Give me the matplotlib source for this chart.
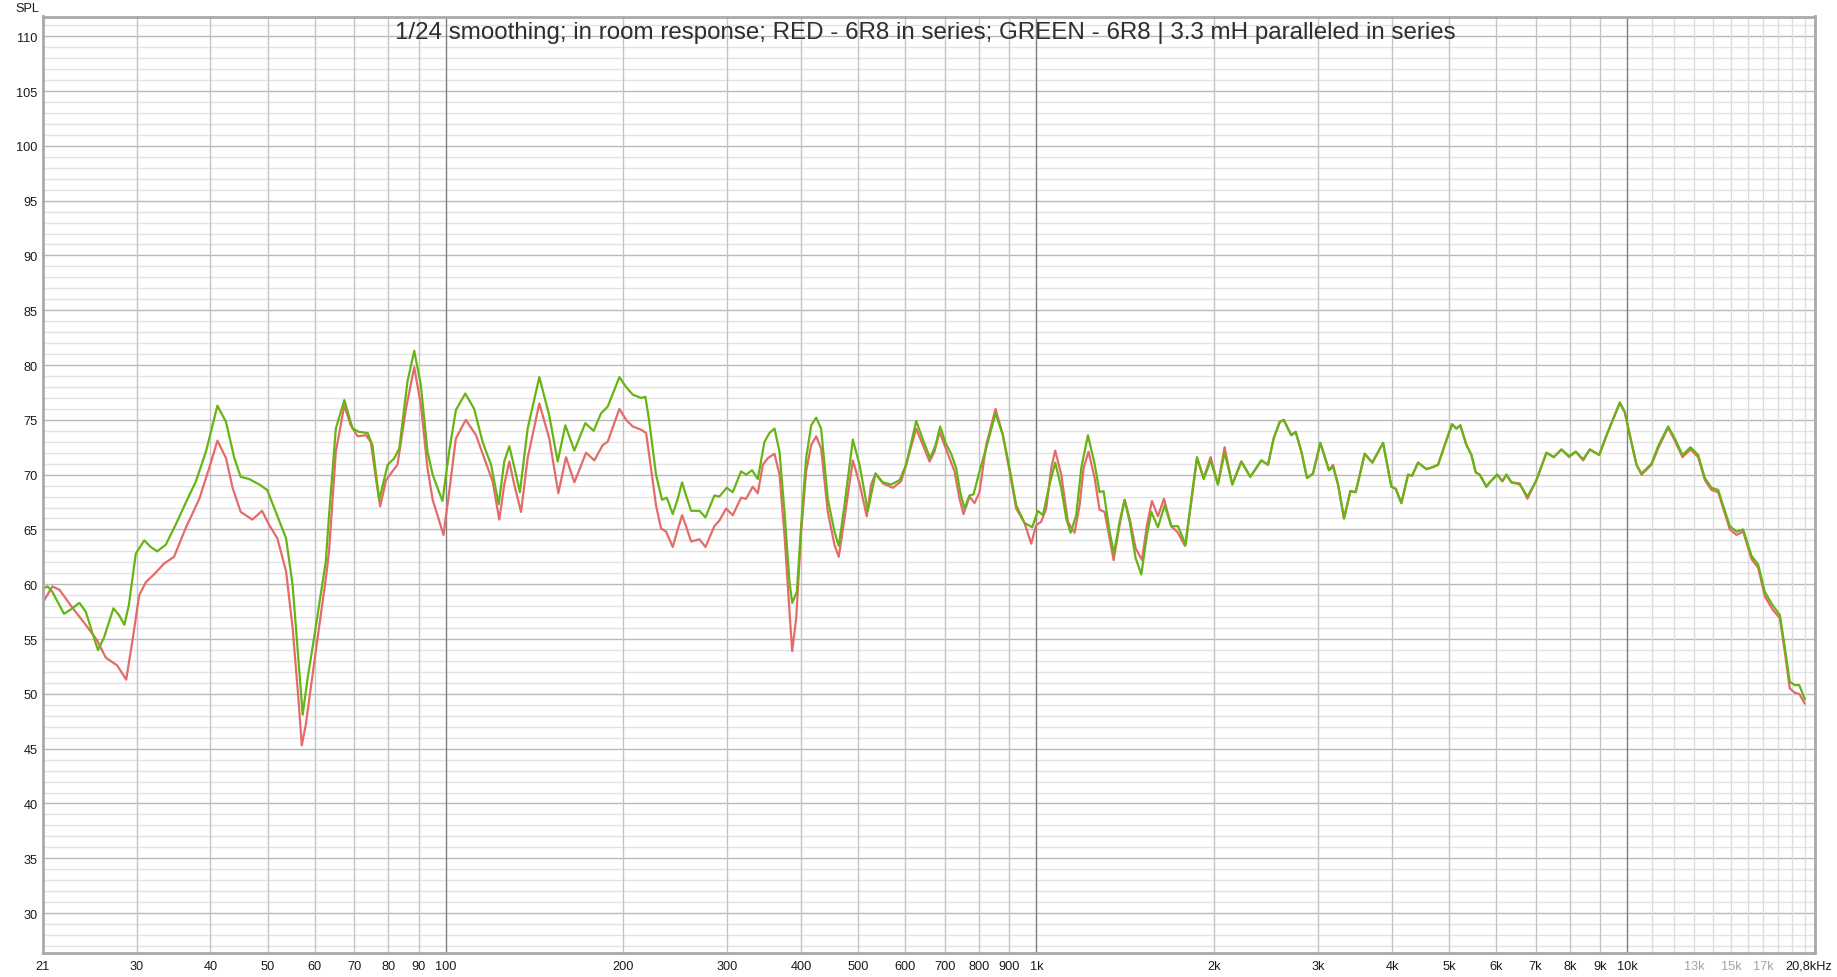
import matplotlib
matplotlib.use("Agg")
import matplotlib.pyplot as plt
from matplotlib import font_manager

# ---------------- data ----------------
freq_red = [20.8, 21.6, 22.2, 23.4, 24.6, 25.7, 26.6, 27.8, 28.8, 29.5, 30.3, 31.1, 32.1, 33.4, 34.7,
            36.3, 38.3, 39.8, 41.1, 42.5, 43.6, 45.0, 47.1, 48.9, 50.3, 51.9, 53.7, 55.1, 56.4, 57.1,
            58.0, 60.3, 62.7, 63.5, 65.2, 67.4, 69.1, 71.0, 73.3, 74.7, 76.2, 77.5, 79.3, 81.3, 82.9,
            85.7, 88.5, 90.8, 93.2, 95.1, 96.9, 99.2, 101.4, 104.1, 108.2, 112.6, 116.3, 120.1, 123.3,
            125.7, 128.2, 130.7, 134.2, 137.7, 144.1, 149.8, 155.2, 159.9, 165.2, 172.9, 178.6, 184.5,
            188.1, 196.9, 202.1, 207.4, 214.3, 218.5, 222.7, 227.1, 231.6, 236.2, 242.4, 247.2, 251.4,
            255.3, 260.4, 269.0, 275.4, 285.1, 290.7, 298.4, 306.3, 316.4, 322.6, 331.1, 337.7, 344.4,
            351.1, 360.4, 367.5, 374.7, 381.1, 386.1, 392.2, 399.9, 407.7, 415.8, 424.0, 432.2, 443.6,
            455.3, 463.0, 473.4, 489.1, 502.0, 516.4, 525.3, 534.3, 549.8, 571.7, 590.6, 606.1, 626.1,
            642.6, 659.5, 672.4, 685.7, 699.2, 712.9, 726.9, 741.3, 752.8, 770.7, 785.9, 801.3, 822.4,
            853.0, 877.8, 900.9, 924.6, 955.0, 980.2, 999.5, 1019.2, 1039.2, 1059.8, 1076.4, 1102.0,
            1131.0, 1160.7, 1183.7, 1202.3, 1225.8, 1254.9, 1279.4, 1304.7, 1330.5, 1351.5, 1383.4,
            1410.8, 1438.6, 1472.5, 1509.3, 1539.1, 1569.4, 1606.4, 1644.5, 1692.2, 1736.8, 1785.0,
            1829.6, 1870.5, 1919.8, 1972.4, 2029.6, 2083.1, 2146.4, 2223.3, 2302.5, 2403.3, 2466.7,
            2521.8, 2581.7, 2622.4, 2701.5, 2747.9, 2809.3, 2872.1, 2939.8, 3024.9, 3129.0, 3178.4,
            3241.2, 3317.5, 3400.7, 3472.0, 3596.0, 3705.2, 3862.9, 3990.4, 4058.1, 4148.8, 4258.1,
            4325.3, 4427.2, 4574.2, 4694.1, 4786.3, 4912.5, 5054.8, 5140.5, 5221.6, 5345.6, 5451.2,
            5543.6, 5631.1, 5779.5, 5854.4, 6025.9, 6151.5, 6247.2, 6370.5, 6581.0, 6781.0, 7022.6,
            7302.8, 7514.2, 7742.5, 7976.3, 8187.4, 8426.3, 8648.8, 8971.2, 9231.5, 9474.8, 9720.3,
            9911, 10106, 10373, 10575, 10997, 11287, 11734, 12044, 12410, 12802, 13191, 13538, 13895,
            14260, 14925, 15318, 15721, 16239, 16667, 17106, 17627, 18137, 18496, 18850, 19231, 19561,
            19995]
spl_red = [58.3, 59.8, 59.5, 57.8, 56.3, 54.9, 53.3, 52.6, 51.3, 54.8, 59.0, 60.2, 60.9, 61.9, 62.5,
           65.1, 67.8, 70.6, 73.1, 71.5, 68.8, 66.6, 65.9, 66.7, 65.4, 64.2, 61.2, 56.0, 49.3, 45.3,
           47.2, 53.9, 60.5, 63.0, 72.1, 76.3, 74.5, 73.5, 73.6, 73.0, 69.7, 67.1, 69.5, 70.3, 70.9,
           76.0, 79.8, 76.4, 70.6, 67.7, 66.3, 64.5, 68.4, 73.3, 75.0, 73.6, 71.5, 69.4, 65.9,
           69.1, 71.2, 69.1, 66.6, 71.5, 76.5, 73.3, 68.3, 71.6, 69.3, 72.0, 71.3, 72.7,
           73.0, 76.0, 75.0, 74.4, 74.1, 73.8, 70.6, 67.2, 65.1, 64.8, 63.4, 65.0, 66.3,
           65.3, 63.9, 64.1, 63.4, 65.3, 65.8, 66.9, 66.3, 67.9, 67.8, 68.9, 68.3, 70.9,
           71.5, 71.9, 70.0, 64.5, 58.4, 53.9, 56.9, 64.8, 70.3, 72.7, 73.5, 72.4, 66.6,
           63.6, 62.5, 66.0, 71.3, 69.2, 66.2, 69.1, 70.1, 69.2, 68.8, 69.4, 71.5, 74.2,
           72.7, 71.2, 72.1, 73.9, 72.7, 71.5, 70.3, 67.8, 66.4, 68.0, 67.4, 68.4, 72.7,
           76.0, 73.6, 70.3, 66.9, 65.6, 63.7, 65.4, 65.7, 66.9, 70.6, 72.2, 70.0,
           65.7, 64.7, 67.2, 70.6, 72.1, 69.7, 66.8, 66.6, 64.2, 62.2, 65.4,
           67.7, 66.0, 63.3, 62.2, 65.4, 67.6, 66.2, 67.8, 65.3, 64.7, 63.5,
           67.5, 71.5, 69.7, 71.6, 69.1, 72.5, 69.1, 71.2, 69.8, 71.3, 70.9,
           73.3, 74.8, 75.0, 73.6, 73.9, 72.1, 69.7, 70.1, 72.9, 70.4, 70.9,
           69.1, 66.0, 68.5, 68.4, 71.9, 71.1, 72.9, 68.9, 68.7, 67.4, 70.0,
           69.9, 71.1, 70.5, 70.7, 70.9, 72.7, 74.6, 74.2, 74.5, 72.7, 71.8,
           70.2, 70.0, 68.9, 69.3, 70.0, 69.4, 70.0, 69.3, 69.2, 67.8, 69.5,
           72.0, 71.6, 72.3, 71.6, 72.1, 71.3, 72.3, 71.8, 73.6, 75.1, 76.5,
           75.7, 73.6, 70.9, 70.0, 70.9, 72.4, 74.3, 73.1, 71.6, 72.3, 71.6, 69.5, 68.6,
           68.4, 65.0, 64.5, 64.8, 62.3, 61.5, 58.9, 57.7, 56.9, 53.8, 50.5, 50.1, 50.0,
           49.1]

freq_green = [20.8, 21.2, 21.6, 22.6, 23.2, 24.0, 24.6, 25.3, 25.8, 26.4, 27.4, 28.0, 28.6, 29.1, 29.9,
              30.9, 31.7, 32.5, 33.6, 34.9, 36.3, 37.8, 39.3, 41.1, 42.5, 43.9, 45.0, 46.5, 48.4, 49.9,
              51.6, 53.7, 55.1, 56.2, 57.3, 58.4, 59.9, 62.7, 63.5, 65.2, 67.4, 69.6, 71.4, 73.8, 75.2,
              77.2, 79.8, 81.9, 83.5, 86.2, 88.5, 90.8, 93.2, 95.1, 96.9, 98.8, 101.4, 104.1, 108.0,
              111.8, 115.5, 119.4, 123.0, 125.7, 128.2, 130.7, 133.6, 137.7, 144.1, 149.8, 154.8, 159.5,
              165.2, 172.4, 178.1, 183.3, 188.1, 196.9, 202.1, 207.4, 214.3, 217.9, 221.3, 227.1, 232.5,
              236.8, 242.4, 247.2, 251.4, 255.3, 260.4, 269.0, 275.4, 285.1, 290.7, 299.2, 306.3, 316.4,
              322.6, 330.3, 337.7, 346.6, 353.4, 360.4, 367.5, 374.7, 382.1, 386.1, 393.2, 399.9, 407.7,
              415.8, 424.0, 432.2, 443.6, 455.3, 463.0, 473.4, 489.1, 502.0, 518.5, 534.3, 549.8, 568.0,
              586.8, 602.2, 626.1, 642.6, 661.2, 675.1, 687.5, 701.9, 717.6, 731.6, 743.1, 755.8, 770.7,
              782.9, 801.3, 822.4, 853.0, 877.8, 900.9, 924.6, 955.0, 984.0, 1006.0, 1025.9, 1052.9,
              1076.4, 1102.0, 1123.7, 1142.9, 1168.3, 1191.4, 1222.7, 1254.9, 1279.4, 1299.6, 1330.5,
              1353.2, 1383.4, 1410.8, 1438.6, 1472.5, 1505.5, 1539.1, 1565.5, 1606.4, 1648.7, 1692.2,
              1736.8, 1789.6, 1829.6, 1870.5, 1919.8, 1972.4, 2029.6, 2083.1, 2146.4, 2223.3, 2302.5,
              2403.3, 2466.7, 2521.8, 2581.7, 2622.4, 2701.5, 2747.9, 2809.3, 2872.1, 2939.8, 3024.9,
              3129.0, 3178.4, 3241.2, 3317.5, 3400.7, 3472.0, 3596.0, 3705.2, 3862.9, 3990.4, 4058.1,
              4148.8, 4258.1, 4325.3, 4427.2, 4574.2, 4694.1, 4786.3, 4912.5, 5054.8, 5140.5, 5221.6,
              5345.6, 5451.2, 5543.6, 5631.1, 5779.5, 5854.4, 6025.9, 6151.5, 6247.2, 6370.5, 6581.0,
              6781.0, 7022.6, 7302.8, 7514.2, 7742.5, 7976.3, 8187.4, 8426.3, 8648.8, 8971.2, 9231.5,
              9474.8, 9720.3, 9911, 10106, 10373, 10575, 10997, 11287, 11734, 12044, 12410, 12802,
              13191, 13538, 13895, 14260, 14925, 15318, 15721, 16239, 16667, 17106, 17627, 18137,
              18496, 18850, 19231, 19561, 19995]
spl_green = [59.6, 59.8, 59.3, 57.3, 57.7, 58.3, 57.5, 55.4, 54.0, 55.1, 57.8, 57.2, 56.3, 58.1, 62.8,
             64.0, 63.4, 63.0, 63.6, 65.4, 67.4, 69.4, 72.1, 76.3, 74.8, 71.5, 69.8, 69.6, 69.1, 68.6,
             66.6, 64.2, 59.9, 53.9, 48.1, 51.4, 55.1, 62.1, 66.3, 74.2, 76.8, 74.2, 73.9, 73.8, 72.7,
             67.7, 70.9, 71.5, 72.4, 78.5, 81.3, 78.2, 72.1, 70.0, 68.8, 67.6, 72.1, 75.9, 77.4,
             76.0, 73.0, 70.9, 67.3, 71.2, 72.6, 70.7, 68.4, 74.2, 78.9, 75.4, 71.2, 74.5,
             72.2, 74.7, 74.0, 75.6, 76.2, 78.9, 78.0, 77.3, 77.0, 77.1, 74.8, 70.0, 67.7,
             67.9, 66.4, 67.8, 69.3, 68.1, 66.7, 66.7, 66.1, 68.1, 68.0, 68.8, 68.4, 70.3,
             70.0, 70.4, 69.6, 73.0, 73.8, 74.2, 72.1, 66.6, 60.2, 58.3, 59.3, 65.4, 71.5,
             74.5, 75.2, 74.2, 67.8, 64.8, 63.5, 67.2, 73.2, 70.9, 66.7, 70.1, 69.3, 69.1,
             69.5, 70.9, 74.9, 73.2, 71.5, 72.7, 74.4, 72.9, 71.9, 70.6, 68.4, 66.9, 68.1,
             68.2, 70.3, 72.4, 75.6, 73.6, 70.6, 67.2, 65.6, 65.2, 66.7, 66.3, 69.1,
             71.1, 68.8, 66.0, 64.7, 66.3, 70.6, 73.6, 71.0, 68.4, 68.5, 64.8,
             62.8, 65.7, 67.7, 65.7, 62.4, 60.9, 64.5, 66.6, 65.2, 67.2, 65.3,
             65.3, 63.6, 67.8, 71.6, 69.6, 71.3, 69.1, 72.0, 69.1, 71.2, 69.8,
             71.3, 70.9, 73.3, 74.8, 75.0, 73.6, 73.9, 72.1, 69.7, 70.1, 72.9,
             70.4, 70.7, 69.1, 66.0, 68.5, 68.4, 71.9, 71.1, 72.9, 68.9, 68.7,
             67.4, 70.0, 69.9, 71.1, 70.5, 70.7, 70.9, 72.7, 74.6, 74.2, 74.5,
             72.7, 71.8, 70.2, 70.0, 68.9, 69.3, 70.0, 69.4, 70.0, 69.3, 69.1,
             68.0, 69.5, 72.0, 71.6, 72.3, 71.7, 72.1, 71.4, 72.3, 71.8, 73.6,
             75.1, 76.6, 75.7, 73.6, 70.9, 70.1, 71.0, 72.6, 74.4, 73.3, 71.8, 72.5,
             71.8, 69.7, 68.8, 68.6, 65.3, 64.8, 65.0, 62.6, 61.8, 59.3, 58.1, 57.2,
             54.2, 51.1, 50.8, 50.8, 49.5]

xtick_values = [20.8, 30, 40, 50, 60, 70, 80, 90, 100, 200, 300, 400, 500, 600, 700, 800, 900,
                1000, 2000, 3000, 4000, 5000, 6000, 7000, 8000, 9000, 10000, 13000, 15000, 17000]
xtick_labels = ["21", "30", "40", "50", "60", "70", "80", "90", "100", "200", "300", "400", "500",
                "600", "700", "800", "900", "1k", "2k", "3k", "4k", "5k", "6k", "7k", "8k", "9k",
                "10k", "13k", "15k", "17k"]
faded_labels = ["13k", "15k", "17k"]
ytick_values = list(range(30, 111, 5))
title_text = ("1/24 smoothing; in room response; RED - 6R8 in series; "
              "GREEN - 6R8 | 3.3 mH paralleled in series")

# ---------------- figure ----------------
W, H = 1837, 978
fig = plt.figure(figsize=(W / 100, H / 100), dpi=100)
fig.patch.set_facecolor("white")

names = {f.name for f in font_manager.fontManager.ttflist}
base_font = "Liberation Sans" if "Liberation Sans" in names else "DejaVu Sans"
title_font = "Liberation Sans Narrow" if "Liberation Sans Narrow" in names else base_font
FS = 9.2

left, right, top, bottom = 42.7, 1815, 17.5, 954.3
ax = fig.add_axes([left / W, 1 - bottom / H, (right - left) / W, (bottom - top) / H])
ax.set_xscale("log")
ax.set_xlim(20.8, 20800)
ax.set_ylim(26.33, 111.8)
ax.set_facecolor("white")

# horizontal grid: 1 dB light, 5 dB darker
for v in range(27, 112):
    col = "#b9b9b9" if v % 5 == 0 else "#e2e2e2"
    ax.axhline(v, color=col, lw=1.0, zorder=1)

# vertical grid
for dec in (10, 100, 1000):
    for m in range(2, 10):
        f = dec * m
        if f < 20.8:
            continue
        ax.axvline(f, color="#c4c4c4", lw=1.0, zorder=1)
for f in (100, 1000, 10000):
    ax.axvline(f, color="#7d7d7d", lw=1.0, zorder=2)
for m in range(11, 21):
    ax.axvline(m * 1000, color="#dcdcdc", lw=1.0, zorder=1)

ax.plot(freq_red, spl_red, color="#e56b6b", lw=1.6, zorder=4,
        solid_joinstyle="round", solid_capstyle="round")
ax.plot(freq_green, spl_green, color="#66b514", lw=1.6, zorder=5,
        solid_joinstyle="round", solid_capstyle="round")

ax.set_xticks(xtick_values)
ax.set_xticklabels(xtick_labels)
ax.xaxis.set_minor_locator(matplotlib.ticker.NullLocator())
ax.set_yticks(ytick_values)
ax.set_yticklabels([str(v) for v in ytick_values])
ax.tick_params(axis="both", length=0, labelsize=FS, colors="#1a1a1a")
ax.tick_params(axis="x", pad=5)
ax.tick_params(axis="y", pad=3.5)
for lab in ax.get_xticklabels() + ax.get_yticklabels():
    lab.set_fontfamily(base_font)
for lab in ax.get_xticklabels():
    if lab.get_text() in faded_labels:
        lab.set_color("#a3a3a3")

for s in ax.spines.values():
    s.set_color("#a9a9a9")
    s.set_linewidth(2.0)
    s.set_zorder(6)

fig.text(1809 / W, 1 - 967 / H, "20,8kHz", ha="center", va="center",
         fontsize=FS, family=base_font, color="#1a1a1a")
fig.text(27 / W, 1 - 9 / H, "SPL", ha="center", va="center",
         fontsize=FS, family=base_font, color="#1a1a1a")

t = fig.text(925.5 / W, 1 - 33 / H, title_text, ha="center", va="center",
             fontsize=16, family=title_font, color="#2e2e2e", zorder=10)
fig.canvas.draw()
bb = t.get_window_extent(renderer=fig.canvas.get_renderer())
t.set_fontsize(16 * 1063.0 / bb.width)

fig.savefig("out.png", dpi=100, facecolor="white")
